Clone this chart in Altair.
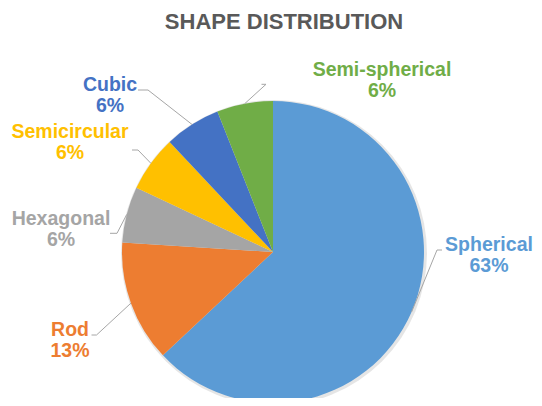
import math
import altair as alt
import pandas as pd

# ---- data ----
title = "SHAPE DISTRIBUTION"
categories = ["Spherical", "Rod", "Hexagonal", "Semicircular", "Cubic", "Semi-spherical"]
values = [63, 13, 6, 6, 6, 6]
colors = ["#5B9BD5", "#ED7D31", "#A5A5A5", "#FFC000", "#4472C4", "#70AD47"]

# ---- layout (chart pixel coords) ----
CX, CY, R = 265, 244, 151
label_pos = {  # centre x, baseline of first line
    "Spherical": (481, 243),
    "Rod": (62, 328),
    "Hexagonal": (53, 217),
    "Semicircular": (62, 129.5),
    "Cubic": (102, 83),
    "Semi-spherical": (374, 68),
}
leader_pts = {  # elbow, end
    "Spherical": [(429, 242), (434, 242)],
    "Rod": [(88.5, 327), (83.5, 327)],
    "Hexagonal": [(109, 225.3), (102, 225.3)],
    "Semicircular": [(130, 142), (124, 142)],
    "Cubic": [(140, 82), (130, 82)],
    "Semi-spherical": [(258, 76.3), (253.5, 76.3)],
}

df = pd.DataFrame({"cat": categories, "value": values, "order": range(len(categories))})
total = df["value"].sum()
df["mid"] = (df["value"].cumsum() - df["value"] / 2) / total * 2 * math.pi
df["pct"] = (df["value"] / total * 100).round().astype(int).astype(str) + "%"

lab = df.copy()
lab["text"] = lab["cat"] + "\n" + lab["pct"]
lab["lx"] = [label_pos[c][0] for c in lab["cat"]]
lab["ly"] = [label_pos[c][1] for c in lab["cat"]]

rows = []
for _, r in df.iterrows():
    sx = CX + R * math.sin(r["mid"])
    sy = CY - R * math.cos(r["mid"])
    pts = [(sx, sy)] + leader_pts[r["cat"]]
    for i, (px, py) in enumerate(pts):
        rows.append({"cat": r["cat"], "seq": i, "px": px, "py": py})
lines = pd.DataFrame(rows)

color_scale = alt.Scale(domain=categories, range=colors)

shadow = alt.Chart(pd.DataFrame({"a": [1]})).mark_arc(
    theta=0, theta2=2 * math.pi, outerRadius=R + 2, color="#000000", opacity=0.10
).encode(x=alt.value(CX + 1), y=alt.value(CY + 1))

pie = alt.Chart(df).mark_arc(outerRadius=R, stroke=None).encode(
    theta=alt.Theta("value:Q", stack=True),
    color=alt.Color("cat:N", scale=color_scale, legend=None),
    order=alt.Order("order:Q"),
    x=alt.value(CX),
    y=alt.value(CY),
)

leaders = alt.Chart(lines).mark_line(color="#A6A6A6", strokeWidth=1).encode(
    x=alt.X("px:Q", scale=None),
    y=alt.Y("py:Q", scale=None),
    detail="cat:N",
    order="seq:Q",
)

labels = alt.Chart(lab).mark_text(
    font="Liberation Sans", fontSize=19.5, fontWeight="bold",
    align="center", baseline="alphabetic", lineBreak="\n", lineHeight=21,
).encode(
    x=alt.X("lx:Q", scale=None),
    y=alt.Y("ly:Q", scale=None),
    text="text:N",
    color=alt.Color("cat:N", scale=color_scale, legend=None),
)

title_mark = alt.Chart(pd.DataFrame({"t": [title]})).mark_text(
    font="Liberation Sans", fontSize=22, fontWeight="bold", color="#595959",
    align="center", baseline="alphabetic",
).encode(text="t:N", x=alt.value(276), y=alt.value(21))

chart = alt.layer(shadow, pie, leaders, labels, title_mark).properties(
    width=526, height=390, padding=0, autosize="none"
).configure_view(stroke=None)

chart.save("out.html", embed_options={"renderer": "svg", "actions": False})
